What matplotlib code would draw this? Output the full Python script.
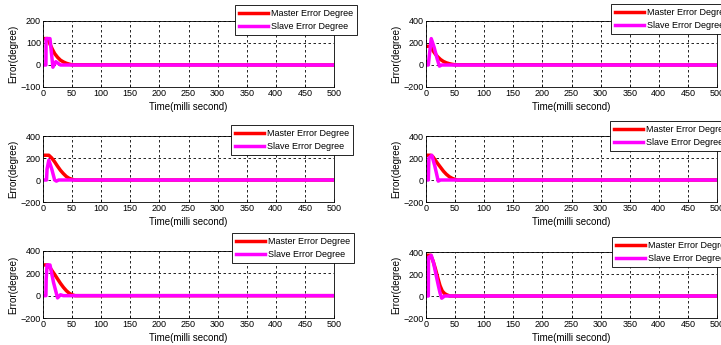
import matplotlib.pyplot as plt

plt.rcParams['font.family'] = ['Liberation Sans', 'DejaVu Sans']

""" Master / slave error response, six cases """
t_master_1 = [0, 8, 12, 16, 20, 25, 30, 35, 40, 45, 50, 500]
e_master_1 = [120, 120, 95, 72, 52, 35, 22, 14, 8, 4, 1, 0]
t_slave_1 = [0, 5, 5.3, 12, 17, 22, 30, 500]
e_slave_1 = [0, 0, 120, 120, -10, 15, 0, 0]

t_master_2 = [0, 8, 12, 16, 20, 25, 30, 35, 40, 45, 50, 500]
e_master_2 = [170, 170, 130, 100, 75, 50, 32, 20, 12, 6, 2, 0]
t_slave_2 = [0, 4, 6, 9, 14, 19, 23, 27, 500]
e_slave_2 = [0, 0, 100, 240, 160, 60, -10, 0, 0]

t_master_3 = [0, 10, 15, 20, 25, 30, 35, 40, 45, 50, 55, 500]
e_master_3 = [225, 225, 200, 165, 125, 88, 58, 32, 15, 6, 0, 0]
t_slave_3 = [0, 6, 7, 10, 15, 20, 23, 27, 500]
e_slave_3 = [0, 0, 100, 180, 100, 0, -10, 0, 0]

t_master_4 = [0, 8, 12, 16, 20, 25, 30, 35, 40, 45, 50, 55, 500]
e_master_4 = [225, 225, 210, 180, 150, 115, 80, 52, 30, 15, 5, 0, 0]
t_slave_4 = [0, 4, 5, 10, 15, 21, 25, 500]
e_slave_4 = [0, 0, 200, 225, 130, -10, 0, 0]

t_master_5 = [0, 8, 12, 16, 20, 25, 30, 35, 40, 45, 50, 55, 500]
e_master_5 = [275, 275, 250, 220, 190, 150, 110, 75, 45, 22, 8, 0, 0]
t_slave_5 = [0, 5, 5.5, 7, 12, 18, 25, 30, 35, 500]
e_slave_5 = [0, 0, 150, 275, 275, 120, -20, 8, 0, 0]

t_master_6 = [0, 8, 12, 16, 20, 24, 28, 32, 36, 41, 500]
e_master_6 = [370, 370, 320, 250, 170, 95, 45, 22, 10, 0, 0]
t_slave_6 = [0, 4, 4.3, 9, 13, 17, 21, 24, 27, 32, 500]
e_slave_6 = [0, 0, 350, 370, 300, 200, 100, 30, -20, 0, 0]

x_ticks = list(range(0, 501, 50))
y_ticks_small = [-100, 0, 100, 200]
y_ticks_big = [-200, 0, 200, 400]

W, H = 721, 345
fig = plt.figure(figsize=(W / 100, H / 100), dpi=100)

# axes box (left, top, right, bottom) in pixels, legend top-left in pixels
panels = [
    ((43, 21, 334, 87), (235, 5), t_master_1, e_master_1, t_slave_1, e_slave_1, y_ticks_small),
    ((426, 21, 717, 87), (611, 4), t_master_2, e_master_2, t_slave_2, e_slave_2, y_ticks_big),
    ((43, 136, 334, 202), (231, 125), t_master_3, e_master_3, t_slave_3, e_slave_3, y_ticks_big),
    ((426, 136, 717, 202), (610, 121), t_master_4, e_master_4, t_slave_4, e_slave_4, y_ticks_big),
    ((43, 251, 334, 318), (232, 233), t_master_5, e_master_5, t_slave_5, e_slave_5, y_ticks_big),
    ((426, 252, 717, 318), (612, 237), t_master_6, e_master_6, t_slave_6, e_slave_6, y_ticks_big),
]

for box, leg, tm, em, ts, es, yt in panels:
    l, t, r, b = box
    ax = fig.add_axes([l / W, 1 - b / H, (r - l) / W, (b - t) / H])
    ax.plot(tm, em, color='red', lw=2.5, label='Master Error Degree')
    ax.plot(ts, es, color='magenta', lw=2.5, label='Slave Error Degree')
    ax.set_xlim(0, 500)
    ax.set_ylim(yt[0], yt[-1])
    ax.set_xticks(x_ticks)
    ax.set_yticks(yt)
    ax.grid(True, color='black', linestyle=(0, (3, 3)), linewidth=0.6)
    ax.tick_params(direction='in', labelsize=6.5, length=2, width=0.5, pad=1.5)
    for s in ax.spines.values():
        s.set_linewidth(0.6)
    ax.set_xlabel('Time(milli second)', fontsize=7, labelpad=3)
    ax.set_ylabel('Error(degree)', fontsize=7, labelpad=2)
    lg = ax.legend(loc='upper left', bbox_to_anchor=(leg[0] / W, 1 - leg[1] / H),
                   bbox_transform=fig.transFigure, borderaxespad=0, fontsize=6.5,
                   fancybox=False, framealpha=1, edgecolor='black',
                   handlelength=3.2, handletextpad=0.3, borderpad=0.45, labelspacing=0.45)
    lg.get_frame().set_linewidth(0.6)

plt.savefig('out.png', dpi=100)
